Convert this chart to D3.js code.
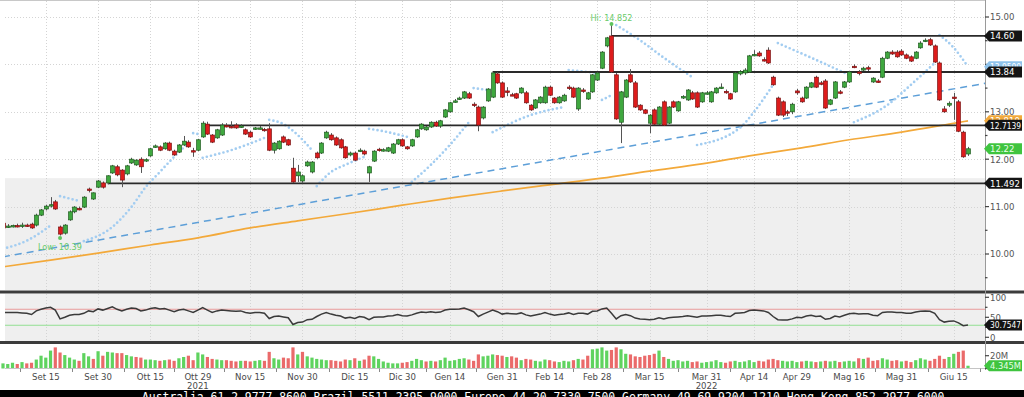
<!DOCTYPE html>
<html><head><meta charset="utf-8">
<script src="https://cdn.jsdelivr.net/npm/d3@7"></script>
<style>
html,body{margin:0;padding:0;background:#fff;overflow:hidden;}
svg{display:block;font-family:"Liberation Sans Narrow","DejaVu Sans Condensed","Liberation Sans",sans-serif;}
</style></head><body>
<svg id="c" width="1024" height="397"></svg>
<script>
// ---------------- DATA ----------------
// daily candles [open, high, low, close], trading days 2021-09-02 .. 2022-06-20
const ohlc = [
[10.65,10.68,10.53,10.55],[10.58,10.63,10.55,10.59],[10.59,10.62,10.56,10.60],[10.60,10.64,10.56,10.59],[10.59,10.66,10.55,10.61],
[10.61,10.64,10.57,10.60],[10.63,10.66,10.53,10.55],[10.61,10.85,10.58,10.82],[10.82,10.95,10.80,10.93],[10.95,11.04,10.92,11.01],
[11.01,11.20,10.98,11.04],[11.10,11.14,10.93,10.95],[10.57,10.60,10.39,10.42],[10.44,10.63,10.41,10.61],[10.72,10.92,10.70,10.89],
[10.89,11.01,10.86,10.99],[10.96,11.00,10.92,10.95],[10.99,11.22,10.97,11.20],[11.37,11.40,11.30,11.35],[11.16,11.30,11.14,11.29],
[11.41,11.56,11.39,11.54],[11.50,11.53,11.38,11.41],[11.50,11.66,11.47,11.65],[11.71,11.88,11.69,11.86],[11.84,11.88,11.64,11.67],
[11.77,11.79,11.41,11.56],[11.69,11.88,11.66,11.86],[11.92,12.03,11.90,12.00],[11.88,12.00,11.86,11.98],[12.00,12.04,11.71,11.84],
[11.97,12.02,11.94,11.99],[12.07,12.24,12.05,12.22],[12.27,12.31,12.24,12.28],[12.26,12.29,12.17,12.19],[12.22,12.36,12.20,12.34],
[12.34,12.37,12.17,12.19],[12.17,12.20,12.07,12.09],[12.15,12.32,12.13,12.30],[12.30,12.49,12.28,12.38],[12.36,12.40,12.24,12.26],
[12.18,12.24,12.05,12.16],[12.19,12.43,12.17,12.41],[12.47,12.80,12.45,12.76],[12.74,12.79,12.51,12.53],[12.51,12.53,12.34,12.36],
[12.45,12.64,12.43,12.62],[12.51,12.76,12.49,12.72],[12.71,12.76,12.67,12.70],[12.69,12.80,12.65,12.68],[12.72,12.76,12.64,12.66],
[12.69,12.74,12.66,12.70],[12.62,12.65,12.51,12.53],[12.57,12.60,12.45,12.47],[12.65,12.68,12.62,12.66],[12.66,12.70,12.63,12.66],
[12.63,12.66,12.58,12.62],[12.64,12.76,12.17,12.19],[12.19,12.36,12.12,12.34],[12.22,12.40,12.20,12.38],[12.47,12.50,12.34,12.36],
[12.41,12.43,12.28,12.30],[11.81,12.03,11.50,11.52],[11.65,11.88,11.52,11.73],[11.54,11.68,11.492,11.65],[11.86,11.97,11.84,11.94],
[11.73,11.96,11.70,11.94],[12.13,12.16,12.01,12.03],[12.13,12.36,12.11,12.34],[12.45,12.60,12.43,12.57],[12.51,12.55,12.39,12.41],
[12.45,12.48,12.28,12.30],[12.41,12.44,12.22,12.24],[12.26,12.28,12.01,12.03],[12.09,12.16,12.06,12.13],[12.13,12.16,11.96,11.98],
[12.18,12.23,12.15,12.19],[12.17,12.20,12.08,12.11],[11.71,11.86,11.52,11.84],[11.96,12.19,11.94,12.17],[12.21,12.24,12.16,12.19],
[12.19,12.23,12.16,12.20],[12.17,12.26,12.15,12.24],[12.13,12.34,12.11,12.32],[12.32,12.43,12.30,12.41],[12.41,12.44,12.26,12.28],
[12.26,12.28,12.20,12.22],[12.28,12.43,12.26,12.41],[12.47,12.64,12.45,12.62],[12.64,12.76,12.62,12.74],[12.62,12.70,12.60,12.68],
[12.68,12.80,12.66,12.78],[12.78,12.81,12.68,12.70],[12.70,12.83,12.66,12.81],[12.89,13.06,12.87,13.04],[13.00,13.21,12.98,13.19],
[13.22,13.27,13.19,13.23],[13.28,13.32,13.25,13.29],[13.29,13.44,13.27,13.42],[13.38,13.42,13.27,13.29],[13.16,13.20,13.10,13.14],
[13.10,13.13,12.59,12.72],[12.87,13.12,12.84,13.10],[13.23,13.50,13.21,13.48],[13.31,13.84,13.29,13.82],[13.80,13.84,13.59,13.61],
[13.61,13.64,13.29,13.31],[13.44,13.52,13.33,13.42],[13.36,13.40,13.33,13.35],[13.38,13.40,13.27,13.29],[13.40,13.52,13.38,13.50],
[13.40,13.44,13.17,13.19],[13.14,13.16,13.02,13.04],[13.08,13.27,13.06,13.25],[13.19,13.33,13.17,13.31],[13.19,13.55,13.17,13.52],
[13.52,13.55,13.33,13.35],[13.29,13.31,13.17,13.19],[13.19,13.33,13.17,13.31],[13.23,13.38,13.21,13.35],[13.52,13.56,13.46,13.50],
[13.50,13.53,13.29,13.31],[13.06,13.52,13.02,13.50],[13.46,13.50,13.40,13.44],[13.27,13.42,13.25,13.40],[13.42,13.80,13.40,13.78],
[13.67,13.84,13.65,13.82],[13.92,14.28,13.90,14.26],[14.39,14.58,14.36,14.56],[14.60,14.852,13.82,13.84],[13.78,13.82,12.83,12.85],
[12.78,13.44,12.34,13.42],[13.31,13.69,13.29,13.67],[13.78,13.90,13.61,13.63],[13.61,13.65,13.08,13.10],[13.14,13.16,13.02,13.04],
[13.04,13.06,12.95,12.97],[12.76,12.95,12.55,12.93],[13.04,13.07,12.72,12.74],[12.74,13.12,12.72,13.10],[13.21,13.24,12.70,12.72],
[12.76,13.12,12.74,13.10],[13.21,13.24,13.08,13.10],[13.02,13.23,13.00,13.21],[13.31,13.35,13.27,13.32],[13.25,13.48,13.23,13.46],
[13.40,13.44,13.25,13.27],[13.40,13.43,13.08,13.10],[13.21,13.42,13.19,13.40],[13.39,13.44,13.36,13.40],[13.21,13.44,13.19,13.42],
[13.40,13.52,13.38,13.50],[13.51,13.60,13.48,13.52],[13.43,13.47,13.38,13.41],[13.38,13.40,13.25,13.27],[13.42,13.84,13.40,13.82],
[13.80,13.88,13.77,13.85],[13.82,13.92,13.78,13.88],[13.84,14.20,13.82,14.18],[14.19,14.30,14.17,14.21],[14.24,14.28,14.16,14.18],
[14.10,14.15,14.06,14.09],[14.30,14.36,14.01,14.03],[13.73,13.76,13.55,13.57],[13.29,13.32,12.91,12.93],[13.21,13.24,12.89,12.93],
[13.00,13.04,12.91,12.97],[13.00,13.19,12.95,13.16],[13.44,13.48,13.36,13.40],[13.29,13.32,13.19,13.21],[13.29,13.54,13.27,13.52],
[13.52,13.63,13.50,13.61],[13.73,13.76,13.50,13.52],[13.61,13.65,13.56,13.59],[13.65,13.69,13.06,13.08],[13.16,13.27,13.14,13.25],
[13.29,13.65,13.27,13.63],[13.42,13.46,13.37,13.40],[13.52,13.65,13.50,13.63],[13.63,13.86,13.61,13.84],[13.96,14.00,13.92,13.94],
[13.84,13.88,13.77,13.82],[13.88,13.95,13.86,13.92],[13.93,13.97,13.86,13.91],[13.63,13.73,13.61,13.71],[13.65,13.69,13.61,13.63],
[13.73,14.16,13.71,14.13],[14.13,14.28,14.11,14.26],[14.26,14.30,14.20,14.22],[14.26,14.30,14.14,14.16],[14.28,14.32,14.18,14.20],
[14.20,14.23,14.11,14.13],[14.16,14.19,14.05,14.07],[14.13,14.28,14.11,14.26],[14.35,14.49,14.33,14.45],[14.50,14.55,14.47,14.51],
[14.52,14.56,14.39,14.41],[14.39,14.42,14.03,14.05],[14.03,14.06,13.23,13.25],[13.06,13.12,12.98,13.00],[13.14,13.22,13.10,13.18],
[13.31,13.40,12.83,13.29],[13.21,13.25,12.57,12.59],[12.57,12.60,12.03,12.05],[12.11,12.26,12.07,12.22]
];
// daily volume, millions
const volumeM = [
8,7,9,7,10,8,9,14,20,17, 28,33,25,21,17,14,12,24,19,15, 27,20,26,25,24,24,21,19,18,17,
14,14,13,12,13,14,12,16,18,20, 13,25,22,18,15,14,13,13,12,11, 12,12,11,12,13,12,26,16,14,17,
16,33,22,26,19,17,15,14,13,13, 12,11,14,13,16,12,14,20,19,15, 11,9,8,8,9,10,12,15,13,11,
12,11,13,17,12,13,15,16,14,12, 22,19,20,22,21,20,18,19,17,13, 15,14,12,11,14,13,11,10,12,11,
13,15,14,20,30,31,33,28,29,33, 30,23,22,19,18,20,21,23,28,18, 15,12,13,11,12,10,11,9,10,11,
13,10,9,11,12,10,11,13,10,12, 11,14,15,13,12,11,12,10,11,12, 11,10,11,12,11,12,10,11,12,11,
16,15,17,12,13,16,14,12,13,11, 12,10,13,16,14,12,15,20,15,18, 23,26,28,4.345
];
// RSI(14)
const rsi = [
62,62,62,62,61,60,57,66,70,73, 75,68,46,50,55,57,57,60,66,64, 71,68,72,76,70,66,70,73,72,66,
68,72,74,71,72,68,64,68,70,66, 62,68,74,68,62,66,68,67,66,65, 66,62,60,62,62,60,47,52,53,51,
49,32,37,38,44,45,52,58,62,58, 55,53,48,50,47,52,50,44,50,51, 51,53,54,57,54,53,56,60,63,62,
64,62,63,68,70,70,71,73,69,64, 52,58,63,68,64,58,60,59,58,61, 56,53,56,58,62,58,55,57,58,61,
57,60,60,58,65,66,71,73,60,46, 54,57,54,48,46,45,44,45,49,46, 49,50,51,52,54,52,50,53,53,54,
55,55,53,52,60,61,62,67,68,67, 66,62,52,44,43,43,46,50,49,53, 55,52,53,45,47,53,51,55,59,60,
58,59,59,55,54,62,63,63,62,62, 60,60,63,65,66,65,60,44,38,40, 41,36,29,30.7547
];
// parabolic SAR segments: [day index, value]
const sarSegments = [
[[0,10.11],[5,10.28],[10,10.60]],
[[12,11.22],[16,11.12]],
[[17,10.27],[23,10.57],[27,10.99],[30,11.41],[33,11.73],[36,12.05],[39,12.34]],
[[40,12.55],[41,12.53]],
[[42,12.03],[48,12.19],[55,12.45]],
[[56,12.83],[59,12.74],[62,12.51],[65,12.19]],
[[66,11.43],[69,11.73],[72,11.88],[76,12.05]],
[[77,12.64],[80,12.59],[85,12.47]],
[[86,11.52],[90,11.88],[94,12.30],[98,12.78]],
[[99,13.50],[102,13.46]],
[[103,12.57],[111,12.93],[118,13.10]],
[[119,13.88],[125,13.82]],
[[126,13.25],[128,13.35]],
[[129,14.83],[134,14.51],[139,14.14],[145,13.73]],
[[146,12.30],[155,12.66],[158,13.00],[162,13.57]],
[[163,14.45],[170,14.14],[178,13.78]],
[[179,12.78],[186,13.14],[191,13.57],[196,14.03]],
[[197,14.62],[200,14.35],[203,13.95]]
];
// moving average samples: [day index, value]
const maPoints = [[0,9.73],[10,9.87],[20,10.02],[31,10.19],[41,10.34],[52,10.55],[62,10.70],[73,10.86],[84,11.03],[94,11.18],[105,11.33],[115,11.46],[126,11.60],[136,11.75],[147,11.90],[157,12.07],[168,12.24],[178,12.41],[189,12.57],[199,12.74],[203,12.81]];
const trendPoints = [[0,9.94],[206.6,13.60]];
const levels = [
  {value:14.60, fromIdx:128, label:"14.60"},
  {value:13.84, fromIdx:103, label:"13.84"},
  {value:12.7139, fromIdx:42, label:"12.7139"},
  {value:11.492, fromIdx:22, label:"11.492"}
];
const shadeBelow = 11.60;
const priceTicks = [10, 11, 12, 13, 15];
const priceGrid = [10, 11, 12, 13, 14, 15];
const tickDates = ["2021-09-15","2021-09-30","2021-10-15","2021-10-29","2021-11-15","2021-11-30","2021-12-15","2021-12-30","2022-01-14","2022-01-31","2022-02-14","2022-02-28","2022-03-15","2022-03-31","2022-04-14","2022-04-29","2022-05-16","2022-05-31","2022-06-15"];
const tickLabels = ["Set 15","Set 30","Ott 15","Ott 29","Nov 15","Nov 30","Dic 15","Dic 30","Gen 14","Gen 31","Feb 14","Feb 28","Mar 15","Mar 31","Apr 14","Apr 29","Mag 16","Mag 31","Giu 15"];
const yearTicks = [["2021-10-29","2021"],["2022-03-31","2022"]];
const holidays = ["2021-12-24","2021-12-31","2022-04-15","2022-04-18"];
const hiMark = {idx:128, value:14.852, label:"Hi: 14.852"};
const lowMark = {idx:12, value:10.39, label:"Low: 10.39"};
const lastSar = 13.95, lastMa = 12.810;
const footer = "Australia 61 2 9777 8600 Brazil 5511 2395 9000 Europe 44 20 7330 7500 Germany 49 69 9204 1210 Hong Kong 852 2977 6000";

// ---------------- DATES (trading-day categories) ----------------
const dates = [];
for (let d = new Date(Date.UTC(2021,8,2)); d <= new Date(Date.UTC(2022,5,20)); d.setUTCDate(d.getUTCDate()+1)) {
  const wd = d.getUTCDay(), s = d.toISOString().slice(0,10);
  if (wd === 0 || wd === 6 || holidays.includes(s)) continue;
  dates.push(s);
}
const N = ohlc.length;

// ---------------- SCALES ----------------
const PL = 5, PR = 985;
const x = d3.scaleLinear().domain([0, N-1]).range([3, 968]);
const xd = s => x(dates.indexOf(s));
const y = d3.scaleLinear().domain([10, 15]).range([254, 17]);
const yR = d3.scaleLinear().domain([0, 100]).range([337.3, 297.3]);
const yV = d3.scaleLinear().domain([0, 20]).range([368.5, 355.7]);

const svg = d3.select("#c");
const defs = svg.append("defs");
defs.append("clipPath").attr("id","mainClip").append("rect").attr("x",PL).attr("y",1).attr("width",PR-PL).attr("height",289);
defs.append("clipPath").attr("id","rsiClip").append("rect").attr("x",PL).attr("y",294).attr("width",PR-PL).attr("height",47);

svg.append("rect").attr("width",1024).attr("height",397).attr("fill","#fff");

// ---------- MAIN PANEL ----------
const main = svg.append("g").attr("clip-path","url(#mainClip)");
main.append("rect").attr("x",PL).attr("y",y(shadeBelow)).attr("width",PR-PL).attr("height",290-y(shadeBelow)).attr("fill","#efefef");
main.selectAll(".hg").data(priceGrid).join("line")
  .attr("x1",PL).attr("x2",PR).attr("y1",d=>Math.round(y(d))+0.5).attr("y2",d=>Math.round(y(d))+0.5)
  .attr("stroke","#d4d4d4").attr("stroke-dasharray","1,2");
main.selectAll(".vg").data(tickDates).join("line")
  .attr("x1",d=>Math.round(xd(d))+0.5).attr("x2",d=>Math.round(xd(d))+0.5).attr("y1",1).attr("y2",290)
  .attr("stroke","#d4d4d4").attr("stroke-dasharray","1,2");
svg.append("line").attr("x1",0).attr("x2",PR).attr("y1",0.5).attr("y2",0.5).attr("stroke","#c8c8c8");

// moving average
main.append("path").datum(maPoints)
  .attr("d", d3.line().x(d=>x(d[0])).y(d=>y(d[1])).curve(d3.curveMonotoneX))
  .attr("fill","none").attr("stroke","#f3a93a").attr("stroke-width",1.7);
// trend line
main.append("path").datum(trendPoints)
  .attr("d", d3.line().x(d=>x(d[0])).y(d=>y(d[1])))
  .attr("fill","none").attr("stroke","#5d9fd8").attr("stroke-width",1.5).attr("stroke-dasharray","7,5");
// parabolic SAR (dotted)
main.selectAll(".sar").data(sarSegments).join("path")
  .attr("d", d3.line().x(d=>x(d[0])).y(d=>y(d[1])).curve(d3.curveMonotoneX))
  .attr("fill","none").attr("stroke","#a3cdf1").attr("stroke-width",2.7)
  .attr("stroke-linecap","round").attr("stroke-dasharray","0,4.3");
// support / resistance lines
main.selectAll(".lvl").data(levels).join("line")
  .attr("x1",d=>x(d.fromIdx)).attr("x2",PR).attr("y1",d=>y(d.value)).attr("y2",d=>y(d.value))
  .attr("stroke","#2a2a2a").attr("stroke-width",1.8);

// candles
const cw = 3.8;
const cg = main.append("g");
ohlc.forEach((c,i) => {
  const [o,h,l,cl] = c;
  const up = cl >= o;
  const cx = Math.round(x(i)) + 0.5;
  cg.append("line").attr("x1",cx).attr("x2",cx).attr("y1",y(h)).attr("y2",y(l)).attr("stroke","#555").attr("stroke-width",1);
  const top = y(Math.max(o,cl)), bot = y(Math.min(o,cl));
  const hgt = Math.max(bot-top, 1.4);
  cg.append("rect").attr("x",cx-cw/2).attr("y",top).attr("width",cw).attr("height",hgt)
    .attr("fill", up ? "#3fa83f" : "#dd1c1c").attr("stroke", up ? "#1d5a1d" : "#7a1010").attr("stroke-width",0.7);
});
// hi / low markers
main.append("circle").attr("cx",x(hiMark.idx)).attr("cy",y(hiMark.value)).attr("r",2).attr("fill","#5cc45c");
svg.append("text").attr("x",x(hiMark.idx)).attr("y",20.5).attr("text-anchor","middle").attr("font-size",9).attr("fill","#6acb6a").text(hiMark.label);
main.append("circle").attr("cx",x(lowMark.idx)).attr("cy",y(lowMark.value)+2.5).attr("r",2).attr("fill","#5cc45c");
svg.append("text").attr("x",38).attr("y",249.5).attr("font-size",9).attr("fill","#6acb6a").text(lowMark.label);

// ---------- RSI PANEL ----------
svg.append("rect").attr("x",PL).attr("y",294).attr("width",PR-PL).attr("height",47).attr("fill","#efefef");
const rg = svg.append("g").attr("clip-path","url(#rsiClip)");
rg.selectAll(".vg").data(tickDates).join("line")
  .attr("x1",d=>Math.round(xd(d))+0.5).attr("x2",d=>Math.round(xd(d))+0.5).attr("y1",294).attr("y2",341)
  .attr("stroke","#d4d4d4").attr("stroke-dasharray","1,2");
rg.append("line").attr("x1",PL).attr("x2",PR).attr("y1",yR(70)).attr("y2",yR(70)).attr("stroke","#e99a9a").attr("stroke-width",1.1);
rg.append("line").attr("x1",PL).attr("x2",PR).attr("y1",yR(30)).attr("y2",yR(30)).attr("stroke","#92df92").attr("stroke-width",1.1);
rg.append("path").datum(rsi).attr("d", d3.line().x((d,i)=>x(i)).y(d=>yR(d)))
  .attr("fill","none").attr("stroke","#3a3a3a").attr("stroke-width",1.5);

// ---------- VOLUME PANEL ----------
const vg = svg.append("g");
volumeM.forEach((v,i) => {
  const up = i === 0 ? true : ohlc[i][3] >= ohlc[i-1][3];
  vg.append("rect").attr("x",x(i)-1.6).attr("y",yV(v)).attr("width",3.2).attr("height",yV(0)-yV(v))
    .attr("fill", up ? "#5fd35f" : "#ea6a6a");
});
svg.append("line").attr("x1",PL).attr("x2",PR).attr("y1",368.5).attr("y2",368.5).attr("stroke","#c4c4c4");

// panel separators
svg.append("rect").attr("x",0).attr("y",290.5).attr("width",1024).attr("height",3).attr("fill","#3c3c3c");
svg.append("rect").attr("x",0).attr("y",341).attr("width",1024).attr("height",3).attr("fill","#3c3c3c");

// ---------- X AXIS ----------
const tickIdx = tickDates.map(d => dates.indexOf(d));
const mids = [];
for (let k = 0; k < tickIdx.length; k++) {
  const prev = k === 0 ? tickIdx[0] - (tickIdx[1]-tickIdx[0]) : tickIdx[k-1];
  mids.push((prev + tickIdx[k]) / 2);
}
mids.push(tickIdx[tickIdx.length-1] + (tickIdx[tickIdx.length-1]-tickIdx[tickIdx.length-2]) / 2);
svg.selectAll(".mt").data(mids.filter(m => x(m) > PL && x(m) < PR)).join("line")
  .attr("x1",d=>Math.round(x(d))+0.5).attr("x2",d=>Math.round(x(d))+0.5).attr("y1",368.5).attr("y2",372)
  .attr("stroke","#888");
svg.selectAll(".xl").data(tickDates).join("text")
  .attr("x",d=>xd(d)).attr("y",379.5).attr("text-anchor","middle").attr("font-size",9.5).attr("fill","#4a4a4a")
  .text((d,i)=>tickLabels[i]);
svg.selectAll(".yl").data(yearTicks).join("text")
  .attr("x",d=>xd(d[0])).attr("y",388.5).attr("text-anchor","middle").attr("font-size",9.5).attr("fill","#4a4a4a")
  .text(d=>d[1]);

// ---------- RIGHT AXIS ----------
svg.append("line").attr("x1",PR+0.5).attr("x2",PR+0.5).attr("y1",0).attr("y2",370).attr("stroke","#9a9a9a");
const ra = svg.append("g").attr("font-size",9.5).attr("fill","#555");
function tick(yy, len){ ra.append("line").attr("x1",PR).attr("x2",PR+len).attr("y1",yy).attr("y2",yy).attr("stroke","#444").attr("stroke-width",1.2); }
function tlabel(yy, t){ ra.append("text").attr("x",PR+5).attr("y",yy+3.3).text(t); }
d3.range(9.5, 15.01, 0.5).forEach(v => tick(y(v), Number.isInteger(v) ? 4 : 2.5));
priceTicks.forEach(v => tlabel(y(v), v.toFixed(2)));
[0,25,50,75,100].forEach(v => tick(yR(v), v % 50 === 0 ? 4 : 2.5));
[0,50,100].forEach(v => tlabel(yR(v), String(v)));
tick(yV(20), 4); tick(yV(0), 4);
tlabel(yV(20), "20M");

function tag(yy, text, fill, color){
  const x0 = 984, x1 = 1022, h = 11;
  svg.append("path").attr("d",`M${x0},${yy} L${x0+5},${yy-h/2} L${x1},${yy-h/2} L${x1},${yy+h/2} L${x0+5},${yy+h/2} Z`).attr("fill",fill);
  const t = svg.append("text").attr("x",x0+6).attr("y",yy+3.3).attr("font-size",9.5).attr("fill",color).text(text);
  const maxW = x1 - x0 - 7;
  if (t.node().getComputedTextLength() > maxW) t.attr("textLength",maxW).attr("lengthAdjust","spacingAndGlyphs");
}
tag(y(lastSar), lastSar.toFixed(4), "#8fc3ec", "#ffffff");
tag(y(lastMa), lastMa.toFixed(3), "#f2a93b", "#ffffff");
levels.forEach(l => tag(y(l.value), l.label, "#141414", "#ffffff"));
tag(y(ohlc[N-1][3]), ohlc[N-1][3].toFixed(2), "#3fc43f", "#e9ffe9");
tag(yR(rsi[N-1]), String(rsi[N-1]), "#141414", "#ffffff");
tag(yV(volumeM[N-1]), volumeM[N-1] + "M", "#3fc43f", "#e9ffe9");

// ---------- FOOTER BAND ----------
svg.append("rect").attr("x",0).attr("y",390).attr("width",1024).attr("height",7).attr("fill","#000");
svg.append("text").attr("x",142).attr("y",400.5).attr("font-family","DejaVu Sans Mono, monospace").attr("font-size",11.4)
  .attr("fill","#fff").text(footer);
</script></body></html>
